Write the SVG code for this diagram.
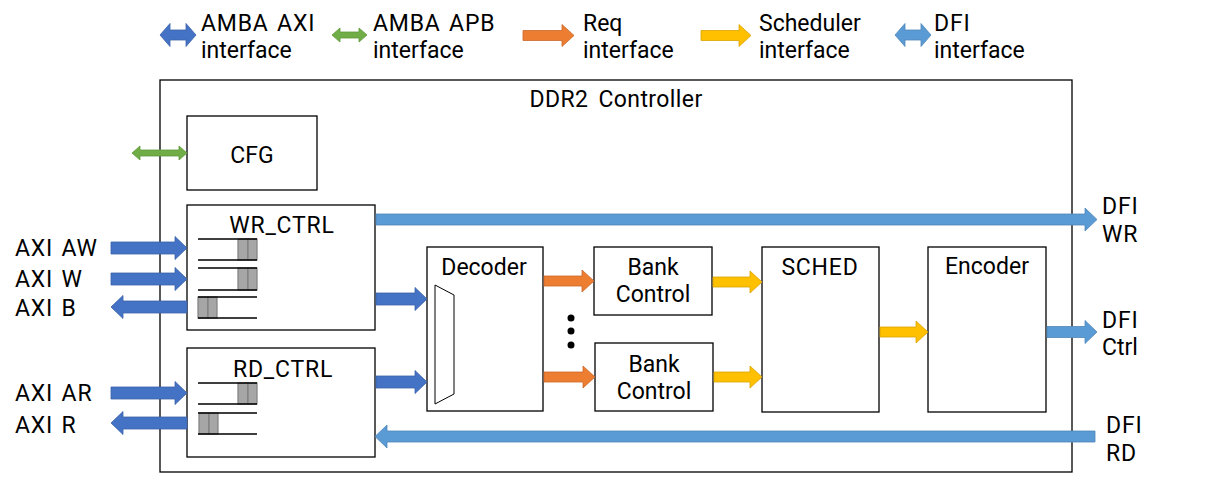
<svg xmlns="http://www.w3.org/2000/svg" width="1207" height="482" viewBox="0 0 1207 482">
<style>
text{font-family:Roboto,"Liberation Sans",sans-serif;font-size:23px;fill:#000;word-spacing:2px}
.k{letter-spacing:0.8px}
.c{text-anchor:middle}
.box{fill:#fff;stroke:#000;stroke-width:1.3}
.axi{fill:#4472C4;stroke:#3A62A8;stroke-width:0.8}
.apb{fill:#70AD47;stroke:#5E9A3A;stroke-width:0.8}
.req{fill:#ED7D31;stroke:#C9682A;stroke-width:0.8}
.sch{fill:#FFC000;stroke:#D9A300;stroke-width:0.8}
.dfi{fill:#5B9BD5;stroke:#4F86B8;stroke-width:0.8}
.fl{stroke:#000;stroke-width:1.3;fill:none}
.cell{fill:#A6A6A6;stroke:#7F7F7F;stroke-width:1.2}
</style>
<rect width="1207" height="482" fill="#fff"/>
<g id="legend">
<path class="axi" d="M160,35 L170,23.5 V30 H186 V23.5 L196,35 L186,46.5 V40 H170 V46.5 Z"/>
<text class="k" x="201" y="31">AMBA AXI</text><text x="201" y="58">interface</text>
<path class="apb" d="M332,35 L340,28 V32 H359 V28 L367,35 L359,42 V38 H340 V42 Z"/>
<text class="k" x="373" y="31">AMBA APB</text><text x="373" y="58">interface</text>
<path class="req" d="M523,30.5 H562 V24.5 L574,35.5 L562,46.5 V40.5 H523 Z"/>
<text x="583" y="31">Req</text><text x="583" y="58">interface</text>
<path class="sch" d="M701,30.5 H739 V24.5 L751,35.5 L739,46.5 V40.5 H701 Z"/>
<text x="759" y="31">Scheduler</text><text x="759" y="58">interface</text>
<path class="dfi" d="M895,35 L905,23.5 V30 H921 V23.5 L931,35 L921,46.5 V40 H905 V46.5 Z"/>
<text class="k" x="934" y="31">DFI</text><text x="934" y="58">interface</text>
</g>
<g id="ddr2_controller">
<rect class="box" x="160" y="80" width="912" height="392"/>
<text class="c" x="616" y="107" style="letter-spacing:0.4px;word-spacing:4px">DDR2 Controller</text>
</g>
<g id="cfg">
<rect class="box" x="187" y="116" width="130" height="74"/>
<text class="c" x="252" y="163">CFG</text>
</g>
<g id="wr_ctrl">
<rect class="box" x="187" y="205" width="188" height="125"/>
<text class="c k" x="282" y="233">WR_CTRL</text>
<rect class="cell" x="238" y="239" width="10" height="21"/><rect class="cell" x="248" y="239" width="9" height="21"/>
<path class="fl" d="M198,239 H257 M198,260 H257"/>
<rect class="cell" x="238" y="268" width="10" height="22"/><rect class="cell" x="248" y="268" width="9" height="22"/>
<path class="fl" d="M198,268 H257 M198,290 H257"/>
<rect class="cell" x="198" y="297" width="10" height="21"/><rect class="cell" x="208" y="297" width="9" height="21"/>
<path class="fl" d="M198,297 H257 M198,318 H257"/>
</g>
<g id="rd_ctrl">
<rect class="box" x="187" y="348" width="188" height="109"/>
<text class="c k" x="283" y="377">RD_CTRL</text>
<rect class="cell" x="238" y="383" width="10" height="21"/><rect class="cell" x="248" y="383" width="9" height="21"/>
<path class="fl" d="M198,383 H257 M198,404 H257"/>
<rect class="cell" x="199" y="413" width="10" height="21"/><rect class="cell" x="209" y="413" width="9" height="21"/>
<path class="fl" d="M198,413 H257 M198,434 H257"/>
</g>
<g id="decoder">
<rect class="box" x="427" y="247" width="116" height="164"/>
<text class="c" x="484" y="275">Decoder</text>
<path d="M435,285 L454,295 V394 L435,404 Z" fill="#fff" stroke="#000" stroke-width="1"/>
</g>
<g id="bank_control_1">
<rect class="box" x="594" y="247" width="118" height="68"/>
<text class="c" x="653" y="275">Bank</text><text class="c" x="653" y="302">Control</text>
</g>
<g id="bank_dots">
<circle cx="571" cy="318" r="3.5"/><circle cx="571" cy="331" r="3.5"/><circle cx="571" cy="345" r="3.5"/>
</g>
<g id="bank_control_2">
<rect class="box" x="595" y="343" width="118" height="68"/>
<text class="c" x="654" y="372">Bank</text><text class="c" x="654" y="399">Control</text>
</g>
<g id="sched">
<rect class="box" x="762" y="247" width="117" height="165"/>
<text class="c k" x="820" y="275">SCHED</text>
</g>
<g id="encoder">
<rect class="box" x="928" y="247" width="118" height="165"/>
<text class="c" x="987" y="274">Encoder</text>
</g>
<g id="labels">
<text class="k" x="15" y="256">AXI AW</text>
<text class="k" x="15" y="287">AXI W</text>
<text class="k" x="15" y="316">AXI B</text>
<text class="k" x="15" y="401">AXI AR</text>
<text class="k" x="15" y="433">AXI R</text>
<text class="k" x="1102" y="214">DFI</text><text class="k" x="1102" y="242">WR</text>
<text class="k" x="1102" y="328">DFI</text><text x="1102" y="355">Ctrl</text>
<text class="k" x="1106" y="433">DFI</text><text class="k" x="1106" y="461">RD</text>
</g>
<g id="connectors">
<path class="apb" d="M132,153 L140,146 V150 H179 V146 L187,153 L179,160 V156 H140 V160 Z"/>
<path class="axi" d="M111,242 H175 V236.5 L187,248 L175,259.5 V254 H111 Z"/>
<path class="axi" d="M111,273 H175 V267.5 L187,279 L175,290.5 V285 H111 Z"/>
<path class="axi" d="M187,301 H123 V295.5 L111,307 L123,318.5 V313 H187 Z"/>
<path class="axi" d="M111,387 H175 V381.5 L187,393 L175,404.5 V399 H111 Z"/>
<path class="axi" d="M187,417 H123 V411.5 L111,423 L123,434.5 V429 H187 Z"/>
<path class="axi" d="M376,293 H415 V287.5 L427,299 L415,310.5 V305 H376 Z"/>
<path class="axi" d="M376,376 H415 V370.5 L427,382 L415,393.5 V388 H376 Z"/>
<path class="dfi" d="M376,214 H1085 V208 L1097,219.5 L1085,231 V225 H376 Z"/>
<path class="dfi" d="M1047,326.5 H1085 V320.5 L1097,332 L1085,343.5 V337.5 H1047 Z"/>
<path class="dfi" d="M1095,431 H387 V425 L375,436.5 L387,448 V442 H1095 Z"/>
<path class="req" d="M544,276 H582 V270 L594,281 L582,292 V286 H544 Z"/>
<path class="req" d="M544,372 H583 V366 L595,377 L583,388 V382 H544 Z"/>
<path class="sch" d="M713,277 H750 V271 L762,282 L750,293 V287 H713 Z"/>
<path class="sch" d="M714,372 H750 V366 L762,377 L750,388 V382 H714 Z"/>
<path class="sch" d="M880,327 H916 V321 L928,332 L916,343 V337 H880 Z"/>
</g>
</svg>
